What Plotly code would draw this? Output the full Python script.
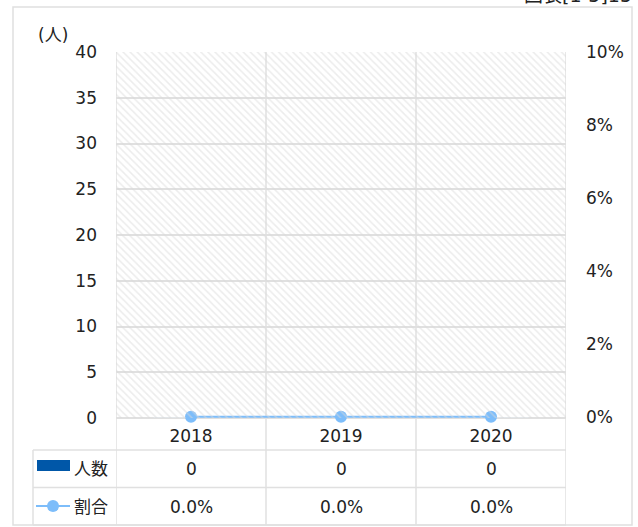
import plotly.graph_objects as go

# ---- data ----
years = ["2018", "2019", "2020"]
counts = [0, 0, 0]            # 人数
ratios = [0.0, 0.0, 0.0]      # 割合
count_name = "人数"
ratio_name = "割合"
unit_label = "(人)"
corner_label = "図表[1-5]15"

# ---- styling ----
W, H = 638, 527
L, R, T, B = 116, 566, 52, 418          # plot area in px
BAR_COLOR = "#0057A8"
LINE_COLOR = "#7DBDFA"
GRID = "#e0e0e0"
FONT = "DejaVu Sans, Noto Sans CJK JP, sans-serif"
FS = 17
# small headroom below 0% so the ratio line at zero is not clipped
RATIO_PAD = 0.1 / (B - T) * 1.2


def px_x(x):
    return (x - L) / (R - L)


def px_y(y):
    return (B - y) / (B - T)


fig = go.Figure()

# bars for the head count
fig.add_trace(go.Bar(x=years, y=counts, name=count_name, marker_color=BAR_COLOR,
                     width=0.5, xaxis="x", yaxis="y", showlegend=False))

# hatched plot-area background
fig.add_trace(go.Scatter(x=[0, 1, 1, 0, 0], y=[0, 0, 1, 1, 0], mode="none",
                         fill="toself", fillcolor="rgba(0,0,0,0)",
                         fillpattern=dict(shape="\\", fgcolor="#d9d9d9",
                                          bgcolor="rgba(0,0,0,0)", size=5, solidity=0.3),
                         xaxis="x2", yaxis="y2", hoverinfo="skip", showlegend=False))

# ratio line on the right axis
fig.add_trace(go.Scatter(x=years, y=ratios, name=ratio_name, mode="lines+markers",
                         line=dict(color=LINE_COLOR, width=2),
                         marker=dict(color=LINE_COLOR, size=12),
                         cliponaxis=False,
                         xaxis="x", yaxis="y3", showlegend=False))

shapes = []
line_style = dict(color=GRID, width=1.5)

# outer frame
shapes.append(dict(type="rect", xref="paper", yref="paper",
                   x0=px_x(13), x1=px_x(632), y0=px_y(525), y1=px_y(7),
                   line=dict(color=GRID, width=1.5), fillcolor="rgba(0,0,0,0)"))

# vertical category boundaries through plot and table
for i in range(len(years) + 1):
    shapes.append(dict(type="line", xref="x", yref="paper", x0=i - 0.5, x1=i - 0.5,
                       y0=px_y(525), y1=1, line=line_style, layer="below"))

# table rows
for ypx in (450, 487.5, 525):
    shapes.append(dict(type="line", xref="paper", yref="paper", x0=px_x(33), x1=1,
                       y0=px_y(ypx), y1=px_y(ypx), line=line_style))
shapes.append(dict(type="line", xref="paper", yref="paper", x0=px_x(33), x1=px_x(33),
                   y0=px_y(450), y1=px_y(525), line=line_style))

# legend keys in the table
shapes.append(dict(type="rect", xref="paper", yref="paper",
                   x0=px_x(37), x1=px_x(70), y0=px_y(471), y1=px_y(460),
                   line=dict(width=0), fillcolor=BAR_COLOR))
shapes.append(dict(type="line", xref="paper", yref="paper",
                   x0=px_x(36), x1=px_x(70), y0=px_y(506), y1=px_y(506),
                   line=dict(color=LINE_COLOR, width=2)))
shapes.append(dict(type="circle", xref="paper", yref="paper",
                   x0=px_x(47), x1=px_x(59), y0=px_y(512), y1=px_y(500),
                   line=dict(width=0), fillcolor=LINE_COLOR))

annotations = []
font = dict(family=FONT, size=FS, color="#222222")


def note(x, y, text, xref="paper", xanchor="center", yanchor="middle", size=FS):
    annotations.append(dict(x=x, y=y, xref=xref, yref="paper", text=text,
                            xanchor=xanchor, yanchor=yanchor, showarrow=False,
                            font=dict(family=FONT, size=size, color="#222222")))


# table cells: numeric category positions on the x axis
for i, (c, r) in enumerate(zip(counts, ratios)):
    note(i, px_y(469), str(c), xref="x")
    note(i, px_y(507), f"{r:.1%}", xref="x")
note(px_x(72), px_y(469), count_name, xanchor="left")
note(px_x(72), px_y(507), ratio_name, xanchor="left")
note(px_x(53), px_y(35), unit_label)
note(px_x(634), px_y(8), corner_label, xanchor="right", yanchor="bottom", size=19)

fig.update_layout(
    width=W, height=H,
    margin=dict(l=L, r=W - R, t=T, b=H - B),
    paper_bgcolor="white", plot_bgcolor="white",
    font=font,
    barmode="group",
    xaxis=dict(type="category", range=[-0.5, 2.5], showgrid=False, zeroline=False,
               showline=False, ticks="", ticklabelstandoff=6, tickfont=font),
    yaxis=dict(range=[0, 40], dtick=5, showgrid=True, gridcolor=GRID, gridwidth=1.5,
               zeroline=True, zerolinecolor=GRID, zerolinewidth=1.5, showline=False,
               ticks="", ticklabelstandoff=18, tickfont=font),
    xaxis2=dict(overlaying="x", range=[0, 1], visible=False),
    yaxis2=dict(overlaying="y", range=[0, 1], visible=False),
    yaxis3=dict(overlaying="y", side="right", range=[-RATIO_PAD, 0.1], dtick=0.02,
                tickformat=".0%", showgrid=False, zeroline=False, showline=False,
                ticks="", ticklabelstandoff=19, tickfont=font),
    shapes=shapes,
    annotations=annotations,
    showlegend=False,
)

fig.write_html("out.html")
